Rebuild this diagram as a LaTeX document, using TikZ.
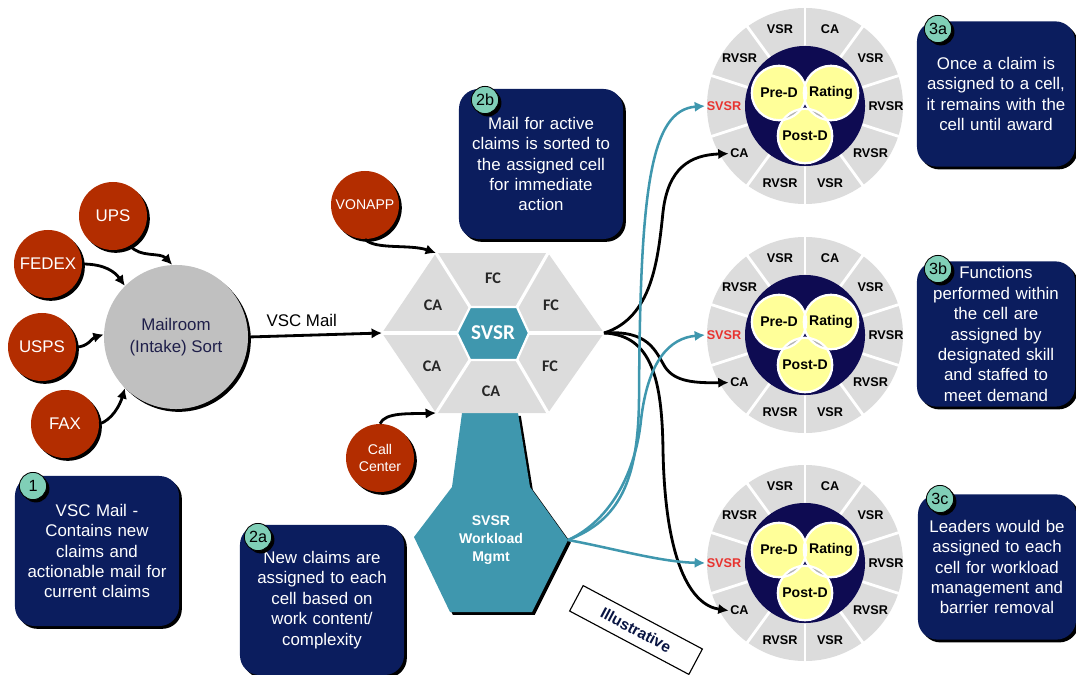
\documentclass[tikz,border=0pt]{standalone}
\usepackage{fontspec}
\setmainfont{Liberation Sans}
\newfontfamily\hexfont{Carlito}
\usepackage{xcolor}
\usepackage{tikz}
\usetikzlibrary{arrows.meta,positioning,shadows}
\definecolor{NAVY}{HTML}{0B1D5E}
\definecolor{DEEP}{HTML}{0E0B52}
\definecolor{BRICK}{HTML}{B32D00}
\definecolor{TEAL}{HTML}{3F97AE}
\definecolor{MINT}{HTML}{80CFB7}
\definecolor{CELL}{HTML}{DCDCDC}
\definecolor{HUB}{HTML}{C0C0C0}
\definecolor{HUBTXT}{HTML}{1F1F4A}
\definecolor{LEMON}{HTML}{FFFF99}
\definecolor{LENS}{HTML}{B4B4B4}
\definecolor{ALERT}{HTML}{E8332F}

\begin{document}
\begin{tikzpicture}[
  x=0.025cm, y=-0.025cm,
  font=\fontsize{12}{14.5}\selectfont,
  dropped/.style={drop shadow={shadow xshift=2pt, shadow yshift=-2pt, fill=black, opacity=1}},
  src/.style={circle, fill=BRICK, dropped, minimum size=1.7cm, inner sep=0pt, text=white, align=center},
  hub/.style={circle, fill=HUB, dropped, minimum size=3.6cm, inner sep=0pt, text=HUBTXT, align=center, font=\fontsize{12}{15.5}\selectfont},
  note/.style={rounded corners=14pt, fill=NAVY, dropped, text=white, align=center, inner sep=2pt, minimum width=4.1cm, minimum height=3.75cm, text width=3.9cm},
  note3/.style={note, minimum width=3.95cm, minimum height=3.63cm, text width=3.8cm},
  badge/.style={circle, draw=black, line width=0.6pt, fill=MINT, dropped, minimum size=0.68cm, inner sep=0pt, font=\fontsize{11.5}{12}\selectfont},
  arr/.style={-{Latex[length=2.6mm, width=2.6mm]}, line width=2pt, draw=black},
  tarr/.style={-{Latex[length=2.6mm, width=2.6mm]}, line width=1.8pt, draw=TEAL},
  seg/.style={font=\hexfont\bfseries\fontsize{11.5}{12}\selectfont, text=black!85},
  cell/.style={font=\bfseries\fontsize{9}{10}\selectfont, inner sep=1pt},
  petal/.style={font=\bfseries\fontsize{10}{11}\selectfont, inner sep=0pt},
]
\useasboundingbox (0,0) rectangle (1076,675);

% mail sources and mailroom
\node[src] (ups) at (113,216) {UPS};
\node[src] (fedex) at (48,264) {FEDEX};
\node[src] (usps) at (42,347) {USPS};
\node[src] (fax) at (65,424) {FAX};
\node[hub] (hub) at (176,337) {Mailroom\\(Intake) Sort};

\draw[arr] (ups.-60) .. controls (140,258) and (160,252) .. (hub.93);
\draw[arr] (fedex.east) .. controls (105,264) and (115,272) .. (hub.135);
\draw[arr] (usps.east) .. controls (88,347) and (92,338) .. (hub.178);
\draw[arr] (fax.east) .. controls (112,420) and (120,405) .. (hub.225);

% workload tail below the cell hexagon
\coordinate (wlR) at (568,540);
\path[fill=TEAL, dropped] (462,413) -- (518,413) -- (530,487) -- (wlR) -- (532,612)
  -- (450,612) -- (414,537) -- (452,487) -- cycle;
\node[font=\bfseries\fontsize{10}{12.5}\selectfont, text=white, align=center] (wl) at (491,540) {SVSR\\Workload\\Mgmt};

% cell hexagon
\coordinate (hxL) at (382,333);
\coordinate (hxUL) at (436,253);
\coordinate (hxUR) at (548,253);
\coordinate (hxR) at (604,333);
\coordinate (hxLR) at (548,413);
\coordinate (hxLL) at (436,413);
\coordinate (inL) at (457,333);
\coordinate (inUL) at (470,307);
\coordinate (inUR) at (517,307);
\coordinate (inR) at (529,333);
\coordinate (inLR) at (517,360);
\coordinate (inLL) at (470,360);
\fill[CELL] (hxL) -- (hxUL) -- (hxUR) -- (hxR) -- (hxLR) -- (hxLL) -- cycle;
\foreach \o/\i in {hxL/inL, hxUL/inUL, hxUR/inUR, hxR/inR, hxLR/inLR, hxLL/inLL}
  \draw[white, line width=2.2pt] (\o) -- (\i);
\filldraw[fill=TEAL, draw=white, line width=1.6pt] (inL) -- (inUL) -- (inUR) -- (inR) -- (inLR) -- (inLL) -- cycle;
\node[font=\hexfont\bfseries\fontsize{15}{16}\selectfont, text=white] (svsr) at (493,333) {SVSR};
\node[seg] at (493,278) {FC};
\node[seg] at (433,305) {CA};
\node[seg] at (551,305) {FC};
\node[seg] at (432,366) {CA};
\node[seg] at (550,366) {FC};
\node[seg] at (491,391) {CA};

\draw[arr] (hub.east) -- node[above, pos=0.4, yshift=2pt] {VSC Mail} (hxL);

\node[src, font=\fontsize{10}{12}\selectfont] (vonapp) at (365,205) {VONAPP};
\node[src, font=\fontsize{10}{12}\selectfont] (call) at (380,458) {Call\\Center};
\draw[arr] (vonapp.south) .. controls (375,250) and (410,244) .. (hxUL);
\draw[arr] (call.north) .. controls (385,412) and (410,414) .. (hxLL);

% three cells
\foreach \w/\cy in {1/106, 2/335, 3/563} {
  \fill[CELL] (805,\cy) circle[radius=2.45cm];
  \foreach \a in {18,54,...,342}
    \draw[white, line width=2pt] ({805+55*cos(\a)},{\cy-55*sin(\a)}) -- ({805+100*cos(\a)},{\cy-100*sin(\a)});
  \fill[DEEP] (805,\cy) circle[radius=1.5cm];
  \foreach \lab/\col [count=\k from 0] in {RVSR/black, VSR/black, CA/black, VSR/black, RVSR/black, SVSR/ALERT, CA/black, RVSR/black, VSR/black, RVSR/black}
    \node[cell, text=\col] (w\w-\k) at ({805+81*cos(36*\k)},{\cy-81*sin(36*\k)}) {\lab};
  \foreach \px/\py in {779/-13, 831/-13, 805/30}
    \fill[LEMON] (\px,\cy+\py) circle[radius=0.68cm];
  \begin{scope}
    \clip (779,\cy-13) circle[radius=0.68cm];
    \fill[LENS] (831,\cy-13) circle[radius=0.68cm];
    \fill[LENS] (805,\cy+30) circle[radius=0.68cm];
  \end{scope}
  \begin{scope}
    \clip (831,\cy-13) circle[radius=0.68cm];
    \fill[LENS] (805,\cy+30) circle[radius=0.68cm];
  \end{scope}
  \foreach \px/\py in {779/-13, 831/-13, 805/30}
    \draw[white, line width=1.6pt] (\px,\cy+\py) circle[radius=0.68cm];
  \node[petal] at (779,\cy-13) {Pre-D};
  \node[petal] at (831,\cy-13) {Rating};
  \node[petal] at (805,\cy+30) {Post-D};
}

% claims sorted to the cells
\draw[arr] (hxR) .. controls (652,318) and (658,260) .. (663,212) .. controls (668,168) and (690,155) .. (w1-6.west);
\draw[arr] (hxR) .. controls (648,330) and (655,350) .. (665,367) .. controls (675,382) and (695,383) .. (w2-6.west);
\draw[arr] (hxR) .. controls (652,335) and (662,380) .. (663,450) .. controls (665,560) and (690,605) .. (w3-6.west);

% workload management to each cell
\draw[tarr] (wlR) .. controls (620,520) and (638,480) .. (639,400) .. controls (640,190) and (650,110) .. (w1-5.west);
\draw[tarr] (wlR) .. controls (612,520) and (636,470) .. (641,420) .. controls (648,360) and (670,338) .. (w2-5.west);
\draw[tarr] (wlR) .. controls (612,548) and (660,562) .. (w3-5.west);

% notes
\node[note] (n1) at (97,551) {VSC Mail -\\Contains new\\claims and\\actionable mail for\\current claims};
\node[badge] (b1) at (33,486) {1};
\node[note] (n2a) at (322,600) {New claims are\\assigned to each\\cell based on\\work content/\\complexity};
\node[badge] (b2a) at (258,537) {2a};
\node[note] (n2b) at (541,164) {Mail for active\\claims is sorted to\\the assigned cell\\for immediate\\action};
\node[badge] (b2b) at (485,100) {2b};
\node[note3] (n3a) at (996,94) {Once a claim is\\assigned to a cell,\\it remains with the\\cell until award};
\node[badge] (b3a) at (938,29) {3a};
\node[note3] (n3b) at (996,334) {Functions\\performed within\\the cell are\\assigned by\\designated skill\\and staffed to\\meet demand};
\node[badge] (b3b) at (938,269) {3b};
\node[note3] (n3c) at (997,567) {Leaders would be\\assigned to each\\cell for workload\\management and\\barrier removal};
\node[badge] (b3c) at (940,499) {3c};

\node[draw=black, line width=0.8pt, fill=white, rotate=-28, minimum width=3.375cm, minimum height=0.72cm,
  font=\bfseries\fontsize{11}{12}\selectfont, text=NAVY!70!black] (illus) at (636,630) {Illustrative};

\end{tikzpicture}
\end{document}
